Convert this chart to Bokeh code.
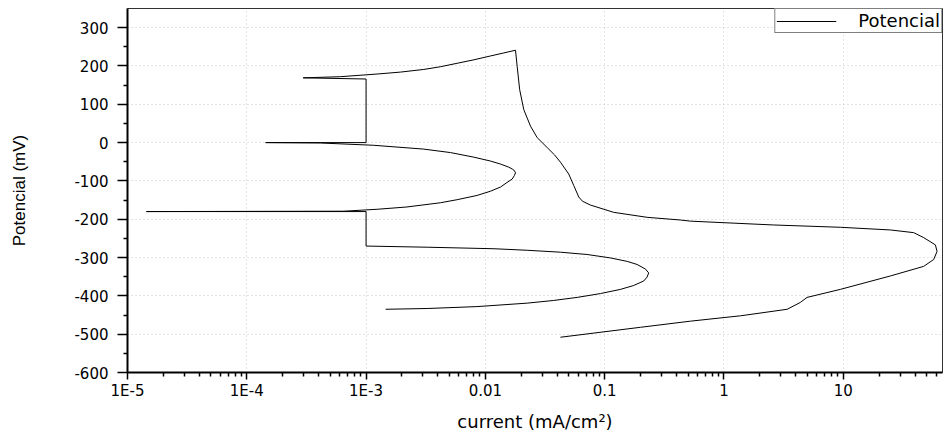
from bokeh.plotting import figure
from bokeh.models import ColumnDataSource, FixedTicker, Range1d
from bokeh.embed import file_html
from bokeh.resources import INLINE

# ---------------- data ----------------
# axis ticks
x_major_ticks = [1e-5, 1e-4, 1e-3, 1e-2, 1e-1, 1, 10]
x_tick_labels = ["1E-5", "1E-4", "1E-3", "0.01", "0.1", "1", "10"]
x_minor_ticks = [2e-5, 3e-5, 4e-5, 5e-5, 6e-5, 7e-5, 8e-5, 9e-5,
                 2e-4, 3e-4, 4e-4, 5e-4, 6e-4, 7e-4, 8e-4, 9e-4,
                 2e-3, 3e-3, 4e-3, 5e-3, 6e-3, 7e-3, 8e-3, 9e-3,
                 0.02, 0.03, 0.04, 0.05, 0.06, 0.07, 0.08, 0.09,
                 0.2, 0.3, 0.4, 0.5, 0.6, 0.7, 0.8, 0.9,
                 2, 3, 4, 5, 6, 7, 8, 9,
                 20, 30, 40, 50, 60]
y_major_ticks = [-600, -500, -400, -300, -200, -100, 0, 100, 200, 300]
y_tick_labels = ["-600", "-500", "-400", "-300", "-200", "-100", "0", "100", "200", "300"]
y_minor_ticks = [-550, -450, -350, -250, -150, -50, 50, 150, 250]

# lower loop (from its left end out to the nose and back to 1E-3 at -270 mV)
lower_loop_current = [1.46e-3, 3.25e-3, 8.5e-3, 0.0224, 0.0374, 0.0589, 0.0923,
                      0.136, 0.175, 0.213, 0.227, 0.234, 0.22, 0.187, 0.1545,
                      0.112, 0.0713, 0.0426, 0.0224, 0.0118, 3.25e-3, 1.0e-3]
lower_loop_potential = [-435, -433, -428, -419, -412, -404, -394,
                        -383, -373, -361, -351, -340, -330, -318, -310,
                        -301, -292, -286, -281, -277, -273, -270]

# step at 1E-3 and the flat line at -180 mV
step_low_current = [1.0e-3, 1.0e-3, 1.44e-5, 6.5e-4]
step_low_potential = [-270, -180, -180, -179]

# middle loop (lower branch out to the nose, upper branch back)
mid_loop_current = [6.5e-4, 1.24e-3, 2.2e-3, 4.2e-3, 5.8e-3, 8.5e-3, 0.011, 0.0134,
                    0.0152, 0.0168, 0.0175, 0.0179, 0.0175, 0.0168, 0.0157,
                    0.0134, 0.011, 8.0e-3, 5.1e-3, 3.05e-3, 1.16e-3, 4.15e-4, 1.44e-4]
mid_loop_potential = [-179, -174, -168, -157, -149, -138, -127, -116,
                      -104, -95, -86, -79, -73, -69, -64,
                      -56, -48, -38, -26, -17, -7, -1, 0]

# rectangle at 1E-3 between 0 and 166 mV
step_high_current = [1.44e-4, 1.0e-3, 1.0e-3, 2.97e-4]
step_high_potential = [0, 0, 166, 169]

# upper branch up to the peak
upper_current = [2.97e-4, 6.1e-4, 1.24e-3, 1.94e-3, 3.05e-3, 4.2e-3, 5.8e-3,
                 8.0e-3, 0.011, 0.01426, 0.0179]
upper_potential = [169, 172, 179, 184, 191, 198, 207,
                   216, 226, 234, 241]

# passive region descending, large cathodic loop and tail
main_current = [0.0185, 0.0194, 0.0210, 0.0239, 0.0272, 0.033, 0.038, 0.0426, 0.050,
                0.0551, 0.0607, 0.0652, 0.076, 0.119, 0.227, 0.431, 0.524,
                2.61, 9.48, 24.9, 39.0, 47.3, 59.3, 61.2, 57.4, 47.3, 24.9,
                9.48, 4.98, 4.38, 3.39, 1.38, 0.524, 0.2, 0.0426]
main_potential = [198, 138, 86, 43, 13, -13, -32, -51, -82,
                  -112, -142, -153, -163, -182, -195, -202, -205,
                  -215, -221, -228, -235, -248, -267, -284, -305, -323, -348,
                  -383, -404, -417, -435, -452, -466, -482, -508]

current = (lower_loop_current + step_low_current + mid_loop_current +
           step_high_current + upper_current + main_current)
potential = (lower_loop_potential + step_low_potential + mid_loop_potential +
             step_high_potential + upper_potential + main_potential)

source = ColumnDataSource(data=dict(current=current, potential=potential))

# ---------------- figure ----------------
p = figure(width=943, height=434, title=None,
           x_axis_type="log", x_range=Range1d(1e-5, 68), y_range=Range1d(-600, 350),
           output_backend="svg", toolbar_location=None,
           min_border_left=127, min_border_right=1, min_border_top=8, min_border_bottom=58)

p.background_fill_color = "white"
p.border_fill_color = "white"
p.outline_line_color = "#333333"
p.outline_line_width = 1

p.line(x="current", y="potential", source=source, line_color="black",
       line_width=1, legend_label="Potencial")

# x axis
xa = p.xaxis[0]
xa.ticker = FixedTicker(ticks=x_major_ticks, minor_ticks=x_minor_ticks)
xa.major_label_overrides = dict(zip(x_major_ticks, x_tick_labels))
xa.axis_label = "current (mA/cm²)"
xa.axis_label_text_font = "DejaVu Sans"
xa.axis_label_text_font_size = "18px"
xa.axis_label_text_font_style = "normal"
xa.axis_label_text_color = "black"
xa.axis_label_standoff = 8
xa.major_label_text_font = "DejaVu Sans"
xa.major_label_text_font_size = "15px"
xa.major_label_text_color = "black"
xa.major_label_standoff = 2
xa.axis_line_width = 2
xa.axis_line_color = "black"
xa.major_tick_out = 7
xa.major_tick_in = 0
xa.minor_tick_out = 4
xa.minor_tick_in = 0
xa.major_tick_line_width = 1.5
xa.minor_tick_line_width = 1.5
xa.major_tick_line_color = "black"
xa.minor_tick_line_color = "black"

# y axis
ya = p.yaxis[0]
ya.ticker = FixedTicker(ticks=y_major_ticks, minor_ticks=y_minor_ticks)
ya.major_label_overrides = dict(zip(y_major_ticks, y_tick_labels))
ya.axis_label = "Potencial (mV)"
ya.axis_label_text_font = "Liberation Sans"
ya.axis_label_text_font_size = "17px"
ya.axis_label_text_font_style = "normal"
ya.axis_label_text_color = "black"
ya.axis_label_standoff = 42
ya.major_label_text_font = "DejaVu Sans"
ya.major_label_text_font_size = "15px"
ya.major_label_text_color = "black"
ya.major_label_standoff = 9
ya.axis_line_width = 2
ya.axis_line_color = "black"
ya.major_tick_out = 10
ya.major_tick_in = 0
ya.minor_tick_out = 4
ya.minor_tick_in = 0
ya.major_tick_line_width = 1.5
ya.minor_tick_line_width = 1.5
ya.major_tick_line_color = "black"
ya.minor_tick_line_color = "black"

# grid
for g in (p.xgrid[0], p.ygrid[0]):
    g.grid_line_color = "#c8c8c8"
    g.grid_line_dash = "1 3"
    g.grid_line_width = 1

# legend
lg = p.legend[0]
lg.location = "top_right"
lg.margin = 0
lg.padding = 1
lg.spacing = 0
lg.border_line_color = "black"
lg.border_line_width = 1
lg.background_fill_color = "white"
lg.background_fill_alpha = 1
lg.label_text_font = "DejaVu Sans"
lg.label_text_font_size = "18px"
lg.label_text_color = "black"
lg.label_standoff = 22
lg.glyph_width = 60
lg.glyph_height = 14
lg.label_height = 14

open("out.html", "w").write(file_html(p, INLINE))
